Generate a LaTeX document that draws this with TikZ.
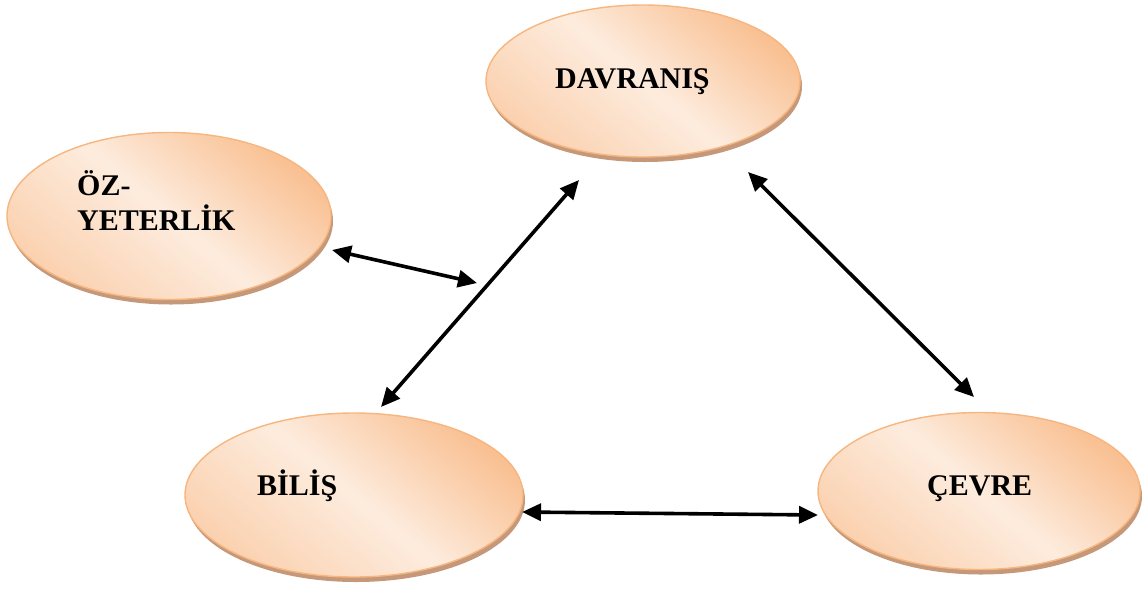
\documentclass[tikz,border=0pt]{standalone}
\usepackage{fontspec}
\setmainfont{Liberation Serif}
\usetikzlibrary{shapes.geometric,shadows,arrows.meta}

\definecolor{peachEdge}{RGB}{246,182,128}
\definecolor{peachDark}{RGB}{249,192,146}
\definecolor{peachLight}{RGB}{253,236,222}
\definecolor{shadowBrown}{RGB}{198,152,122}

\tikzset{
  bubble/.style={ellipse, inner sep=0pt, draw=peachEdge, line width=1.4pt,
    top color=peachDark, bottom color=peachDark!60!peachLight, middle color=peachLight,
    shading angle=-40,
    drop shadow={shadow xshift=2pt, shadow yshift=-5pt, opacity=1, fill=shadowBrown}},
  label/.style={font=\bfseries\fontsize{30}{35}\selectfont, inner sep=0pt, align=left},
  biarrow/.style={line width=3.6pt, {Triangle[length=19pt,width=17pt]}-{Triangle[length=19pt,width=17pt]}}
}

\begin{document}
\begin{tikzpicture}[x=1pt,y=-1pt]
  \useasboundingbox (0,0) rectangle (1142,590);

  % the four ellipses
  \node[bubble, minimum width=314pt, minimum height=152pt] (dav) at (643,81) {};
  \node[bubble, minimum width=324pt, minimum height=167pt] (oz)  at (169,216) {};
  \node[bubble, minimum width=338pt, minimum height=164pt] (bil) at (354,495) {};
  \node[bubble, minimum width=322pt, minimum height=157pt] (cev) at (979,491) {};

  % their labels (base of a two-line label is its last line)
  \node[label, anchor=base west] (davT) at (555,88) {DAVRANIŞ};
  \node[label, anchor=base west] (ozT)  at (77,230) {ÖZ-\\YETERLİK};
  \node[label, anchor=base west] (bilT) at (257,495) {BİLİŞ};
  \node[label, anchor=base west] (cevT) at (927,495) {ÇEVRE};

  % arrow ends
  \coordinate (ozR)   at (332,250);
  \coordinate (midL)  at (477,283);
  \coordinate (davBL) at (579,180);
  \coordinate (bilT2) at (381,407);
  \coordinate (davBR) at (748,172);
  \coordinate (cevTL) at (974,397);
  \coordinate (bilR)  at (522,512);
  \coordinate (cevL)  at (818,515);

  \draw[biarrow] (ozR) -- (midL);
  \draw[biarrow] (davBL) -- (bilT2);
  \draw[biarrow] (davBR) -- (cevTL);
  \draw[biarrow] (bilR) -- (cevL);
\end{tikzpicture}
\end{document}
